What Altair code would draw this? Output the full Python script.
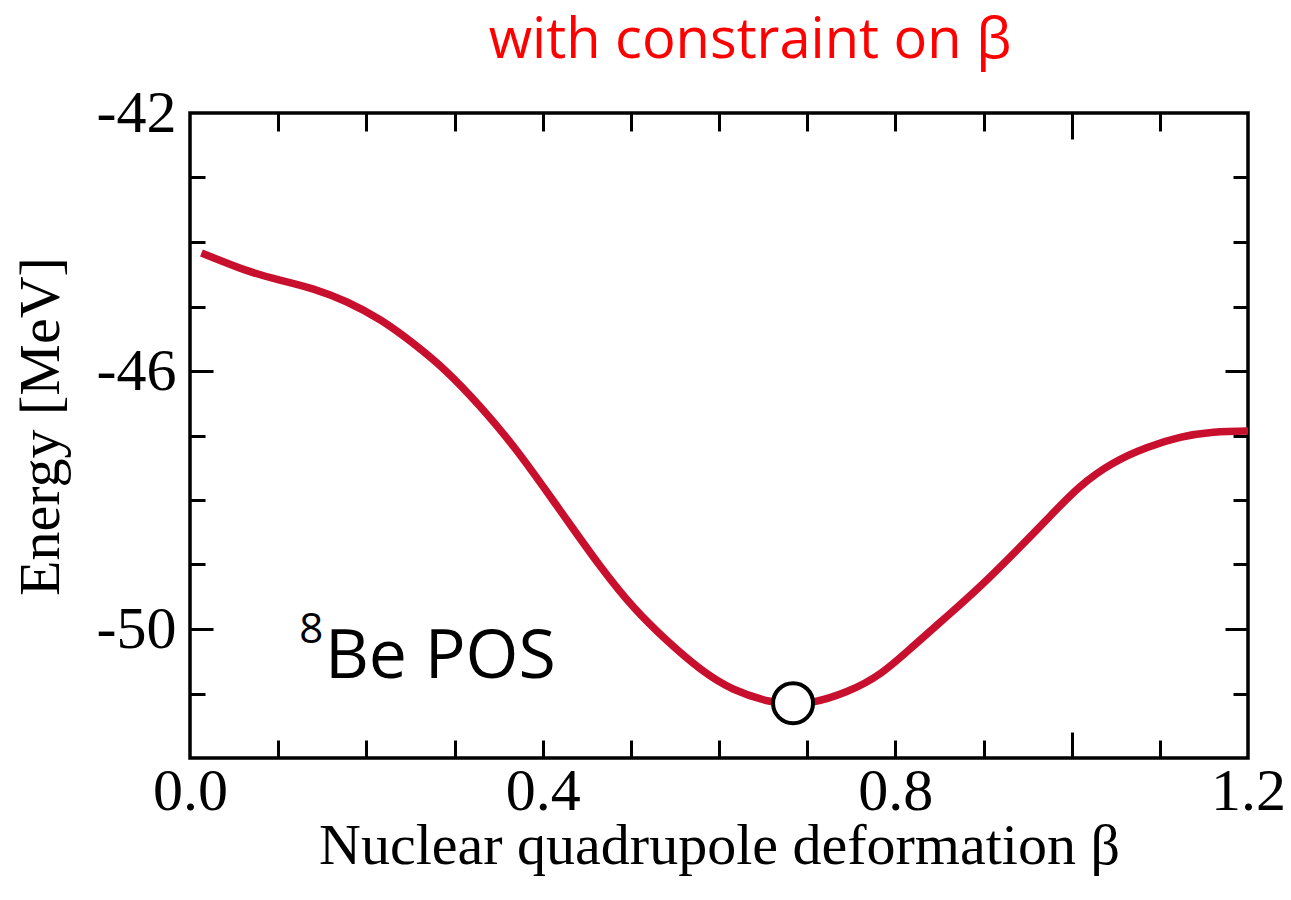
import altair as alt
import pandas as pd

# ---- data ----
beta = [0.013, 0.064, 0.102, 0.140, 0.178, 0.216, 0.253, 0.291, 0.329, 0.367, 0.401,
        0.427, 0.465, 0.503, 0.541, 0.578, 0.616, 0.658, 0.682, 0.707, 0.745, 0.783,
        0.820, 0.858, 0.896, 0.934, 0.972, 1.009, 1.047, 1.085, 1.123, 1.161, 1.200]
energy = [-44.17, -44.44, -44.59, -44.73, -44.93, -45.21, -45.57, -46.01, -46.55, -47.17,
          -47.80, -48.30, -49.02, -49.66, -50.18, -50.61, -50.93, -51.12, -51.15, -51.13,
          -50.97, -50.69, -50.27, -49.81, -49.34, -48.83, -48.30, -47.80, -47.43, -47.19,
          -47.03, -46.95, -46.93]

min_beta = [0.684]
min_energy = [-51.15]

x_label_values = [0.0, 0.4, 0.8, 1.2]
y_label_values = [-42, -46, -50]
x_minor_ticks = [0.1, 0.2, 0.3, 0.4, 0.5, 0.6, 0.7, 0.8, 0.9, 1.1]
x_long_ticks = [1.0]
y_major_ticks = [-46, -50]
y_minor_ticks = [-43, -44, -45, -47, -48, -49, -51]

note_text = ["Be POS"]
note_x = [0.153]
note_y = [-50.76]
sup_text = ["8"]
sup_x = [0.124]
sup_y = [-50.22]

title_text = "with constraint on β"
x_title = "Nuclear quadrupole deformation β"
y_title = "Energy [MeV]"

# ---- tables ----
df = pd.DataFrame({"beta": beta, "energy": energy})
df_min = pd.DataFrame({"beta": min_beta, "energy": min_energy})
df_note = pd.DataFrame({"beta": note_x, "energy": note_y, "t": note_text})
df_sup = pd.DataFrame({"beta": sup_x, "energy": sup_y, "t": sup_text})

xs = alt.Scale(domain=[0, 1.2], nice=False, zero=False)
ys = alt.Scale(domain=[-52, -42], nice=False, zero=False)

SERIF = "Liberation Serif"
SANS = "Open Sans"


def tick_axis(orient, values, size):
    return alt.Axis(orient=orient, values=values, tickSize=size, offset=-size,
                    labels=False, domain=False, grid=False, title=None,
                    ticks=True, tickColor="black", tickWidth=3)


# main curve with labelled axes
line = alt.Chart(df).mark_line(color="#C8102E", strokeWidth=7.5, interpolate="natural").encode(
    x=alt.X("beta:Q", scale=xs, axis=alt.Axis(
        orient="bottom", values=x_label_values, format=".1f", ticks=False, tickSize=0,
        domain=False, grid=False, labelFlush=False, labelFont=SERIF, labelFontSize=60,
        labelColor="black", labelPadding=4, title=x_title, titleFont=SERIF,
        titleFontSize=58, titleFontWeight="normal", titleColor="black",
        titleBaseline="alphabetic", titleY=105)),
    y=alt.Y("energy:Q", scale=ys, axis=alt.Axis(
        orient="left", values=y_label_values, ticks=False, tickSize=0,
        labelExpr="(datum.value < 0 ? '-' : '') + format(abs(datum.value), 'd')",
        domain=False, grid=False, labelFlush=False, labelFont=SERIF, labelFontSize=60,
        labelColor="black", labelPadding=14, title=y_title, titleFont=SERIF,
        titleFontSize=58, titleFontWeight="normal", titleColor="black",
        titleBaseline="alphabetic", titleX=-132, titleY=313)),
)


def ghost(xaxis, yaxis):
    return alt.Chart(df).mark_point(opacity=0).encode(
        x=alt.X("beta:Q", scale=xs, axis=xaxis),
        y=alt.Y("energy:Q", scale=ys, axis=yaxis),
    )


g1 = ghost(tick_axis("bottom", x_minor_ticks, 18), tick_axis("left", y_major_ticks, 23))
g2 = ghost(tick_axis("top", x_minor_ticks, 18), tick_axis("left", y_minor_ticks, 15))
g3 = ghost(tick_axis("bottom", x_long_ticks, 26), tick_axis("right", y_major_ticks, 23))
g4 = ghost(tick_axis("top", x_long_ticks, 26), tick_axis("right", y_minor_ticks, 15))

point = alt.Chart(df_min).mark_point(
    shape="circle", size=1600, filled=True, fill="white", stroke="black",
    strokeWidth=4, opacity=1).encode(
    x=alt.X("beta:Q", scale=xs, axis=None),
    y=alt.Y("energy:Q", scale=ys, axis=None),
)

note = alt.Chart(df_note).mark_text(
    font=SANS, fontSize=68, color="black", align="left", baseline="alphabetic").encode(
    x=alt.X("beta:Q", scale=xs, axis=None),
    y=alt.Y("energy:Q", scale=ys, axis=None),
    text="t:N",
)
sup = alt.Chart(df_sup).mark_text(
    font=SANS, fontSize=42, color="black", align="left", baseline="alphabetic").encode(
    x=alt.X("beta:Q", scale=xs, axis=None),
    y=alt.Y("energy:Q", scale=ys, axis=None),
    text="t:N",
)

chart = alt.layer(line, g1, g2, g3, g4, point, note, sup).resolve_axis(
    x="independent", y="independent"
).properties(
    width=1058,
    height=645,
    autosize=alt.AutoSizeParams(type="none"),
    padding={"left": 190, "top": 113, "right": 43, "bottom": 142},
    background="white",
    title=alt.Title(title_text, font=SANS, fontSize=56, fontWeight="normal",
                    color="#FF0000", anchor="middle", dx=31, baseline="alphabetic",
                    offset=-31),
).configure_view(
    stroke="black", strokeWidth=3.5
)

chart.save("out.html", embed_options={"renderer": "svg", "actions": False})
